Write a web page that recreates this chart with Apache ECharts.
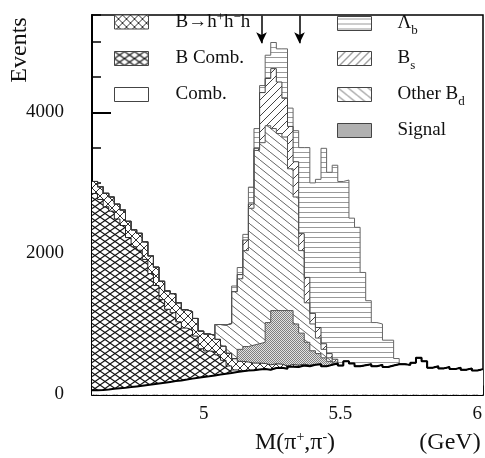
<!DOCTYPE html>
<html>
<head>
<meta charset="utf-8">
<script src="https://cdn.jsdelivr.net/npm/echarts/dist/echarts.min.js"></script>
<style>html,body{margin:0;padding:0;background:#fff;}#c{width:485px;height:458px;}</style>
</head>
<body>
<div id="c"></div>
<script>
// Bin left edges (GeV), last entry is the right edge of the final bin
var binEdges = [4.60,4.62,4.64,4.66,4.68,4.70,4.72,4.74,4.76,4.78,
  4.80,4.82,4.84,4.86,4.88,4.90,4.92,4.94,4.96,4.98,
  5.00,5.02,5.04,5.06,5.08,5.10,5.12,5.14,5.16,5.18,
  5.20,5.22,5.24,5.26,5.28,5.30,5.32,5.34,5.36,5.38,
  5.40,5.42,5.44,5.46,5.48,5.50,5.52,5.54,5.56,5.58,
  5.60,5.62,5.64,5.66,5.68,5.70,5.72,5.74,5.76,5.78,
  5.80,5.82,5.84,5.86,5.88,5.90,5.92,5.94,5.96,5.98,6.00];

// Events per bin for each stacked component (bottom to top)
var comb = [60,65,72,80,88,96,105,115,125,135,
  145,155,165,178,190,200,212,225,238,248,
  258,270,282,295,305,318,330,340,345,355,
  360,350,375,380,365,395,390,410,400,420,
  430,400,420,440,410,470,440,400,415,430,
  400,420,390,410,430,430,420,450,520,470,
  380,400,370,390,360,380,350,370,340,360];
var bComb = [2790,2700,2590,2520,2400,2300,2120,1980,1920,1780,
  1570,1390,1180,1030,970,830,730,690,590,400,
  360,340,280,190,100,30,0,0,0,0,
  0,0,0,0,0,0,0,0,0,0,
  0,0,0,0,0,0,0,0,0,0,
  0,0,0,0,0,0,0,0,0,0,
  0,0,0,0,0,0,0,0,0,0];
var bHHH = [170,180,190,200,210,220,230,240,240,250,
  250,260,260,260,270,270,260,260,250,250,
  240,230,220,200,180,160,140,120,100,90,
  80,70,60,50,40,30,25,20,15,10,
  0,0,0,0,0,0,0,0,0,0,
  0,0,0,0,0,0,0,0,0,0,
  0,0,0,0,0,0,0,0,0,0];
var signal = [0,0,0,0,0,0,0,0,0,0,
  0,0,0,0,0,0,0,0,0,0,
  0,0,0,0,0,0,170,220,255,275,
  300,600,755,760,785,765,585,440,325,190,
  150,120,50,0,0,0,0,0,0,0,
  0,0,0,0,0,0,0,0,0,0,
  0,0,0,0,0,0,0,0,0,0];
var otherBd = [0,0,0,0,0,0,0,0,0,0,
  0,0,0,0,0,0,0,0,0,0,
  0,0,210,300,420,950,1000,1360,1940,2740,
  2830,2790,2580,2510,2460,2010,1800,1170,560,380,
  220,120,50,20,0,0,0,0,0,0,
  0,0,0,0,0,0,0,0,0,0,
  0,0,0,0,0,0,0,0,0,0];
var bS = [0,0,0,0,0,0,0,0,0,0,
  0,0,0,0,0,0,0,0,0,0,
  0,0,0,0,0,0,60,150,60,30,
  710,670,850,730,550,600,500,240,360,150,
  150,80,60,40,0,0,0,0,0,0,
  0,0,0,0,0,0,0,0,0,0,
  0,0,0,0,0,0,0,0,0,0];
var lambdaB = [0,0,0,0,0,0,0,0,0,0,
  0,0,0,0,0,0,0,0,0,0,
  0,0,0,0,0,80,100,80,240,280,
  100,330,370,470,700,260,440,1220,1840,1850,
  2100,2770,2570,2750,2610,2570,2060,1970,1315,900,
  620,580,380,360,80,0,0,0,0,0,
  0,0,0,0,0,0,0,0,0,0];

var arrowsX = [5.207, 5.343];
var xTickLabels = [5, 5.5, 6];
var yTickLabels = [0, 2000, 4000];

var SERIF = "'Liberation Serif','DejaVu Serif',serif";

function tile(w, h, draw) {
  var c = document.createElement('canvas');
  c.width = w; c.height = h;
  var ctx = c.getContext('2d');
  ctx.fillStyle = '#fff'; ctx.fillRect(0, 0, w, h);
  draw(ctx, w, h);
  return { image: c, repeat: 'repeat' };
}
function diag(ctx, w, h, up) {
  for (var k = -1; k <= 1; k++) {
    ctx.beginPath();
    if (up) { ctx.moveTo(k * w, h); ctx.lineTo(k * w + w, 0); }
    else { ctx.moveTo(k * w, 0); ctx.lineTo(k * w + w, h); }
    ctx.stroke();
  }
}
var patHHH = tile(8, 8, function (ctx, w, h) {
  ctx.strokeStyle = '#333'; ctx.lineWidth = 1;
  diag(ctx, w, h, true); diag(ctx, w, h, false);
});
var patBComb = tile(10, 7, function (ctx, w, h) {
  ctx.strokeStyle = '#111'; ctx.lineWidth = 1.1;
  diag(ctx, w, h, true); diag(ctx, w, h, false);
});
var patComb = tile(4, 4, function () {});
var patLb = tile(4, 5, function (ctx) {
  ctx.fillStyle = '#999'; ctx.fillRect(0, 2, 4, 1);
});
var patBs = tile(8, 8, function (ctx, w, h) {
  ctx.strokeStyle = '#444'; ctx.lineWidth = 1; diag(ctx, w, h, true);
});
var patBd = tile(10, 8, function (ctx, w, h) {
  ctx.strokeStyle = '#666'; ctx.lineWidth = 1; diag(ctx, w, h, false);
});
var patSig = tile(2, 2, function (ctx) {
  ctx.fillStyle = '#808080'; ctx.fillRect(0, 0, 1, 1); ctx.fillRect(1, 1, 1, 1);
  ctx.fillStyle = '#e2e2e2'; ctx.fillRect(1, 0, 1, 1); ctx.fillRect(0, 1, 1, 1);
});

var layers = [
  { name: 'Comb.', vals: comb, pat: patComb, line: '#000', lw: 2 },
  { name: 'B Comb.', vals: bComb, pat: patBComb, line: '#222', lw: 1 },
  { name: 'B→h+h-h', vals: bHHH, pat: patHHH, line: '#333', lw: 1 },
  { name: 'Signal', vals: signal, pat: patSig, line: '#555', lw: 1 },
  { name: 'Other Bd', vals: otherBd, pat: patBd, line: '#555', lw: 1 },
  { name: 'Bs', vals: bS, pat: patBs, line: '#444', lw: 1 },
  { name: 'Λb', vals: lambdaB, pat: patLb, line: '#666', lw: 1 }
];
var patByName = {};
layers.forEach(function (l) { patByName[l.name] = l.pat; });

// running (stacked) totals, bottom layer first
var running = binEdges.slice(0, comb.length).map(function () { return 0; });
layers.forEach(function (l) {
  running = running.map(function (v, i) { return v + l.vals[i]; });
  l.cum = running.slice();
});

function pts(vals) {
  var out = [];
  for (var i = 0; i < vals.length; i++) out.push([binEdges[i], vals[i]]);
  out.push([binEdges[vals.length], vals[vals.length - 1]]);
  return out;
}

// draw top-most stack first; each lower layer paints over it (opaque patterns)
var series = layers.slice().reverse().map(function (l) {
  return {
    type: 'line', name: l.name, step: 'end',
    data: pts(l.cum), symbol: 'none', showSymbol: false, silent: true,
    xAxisIndex: 0, yAxisIndex: 0,
    lineStyle: { color: l.line, width: l.lw },
    areaStyle: { color: l.pat, opacity: 1, origin: 'start' },
    itemStyle: { color: l.line }
  };
});
series.push({
  type: 'line', name: 'arrows', data: [], xAxisIndex: 0, yAxisIndex: 0, silent: true,
  markLine: {
    silent: true, symbol: ['none', 'arrow'], symbolSize: [8, 11],
    label: { show: false },
    lineStyle: { color: '#000', width: 1.5, type: 'solid' },
    data: arrowsX.map(function (x) { return [{ coord: [x, 5370] }, { coord: [x, 4980] }]; })
  }
});

var legendLabels = {
  'B→h+h-h': '{sp|}{t|B→h}{sup|+}{t|h}{sup|−}{t|h}',
  'B Comb.': '{sp|}{t|B Comb.}',
  'Comb.': '{sp|}{t|Comb.}',
  'Λb': '{sp2|}{t|Λ}{sub|b}',
  'Bs': '{sp2|}{t|B}{sub|s}',
  'Other Bd': '{sp2|}{t|Other B}{sub|d}',
  'Signal': '{sp2|}{t|Signal}'
};
var rich = {
  sp: { width: 22, lineHeight: 30 },
  sp2: { width: 21, lineHeight: 30 },
  t: { fontFamily: SERIF, fontSize: 19, lineHeight: 30, color: '#111' },
  sup: { fontFamily: SERIF, fontSize: 13, lineHeight: 14, verticalAlign: 'top', padding: [4, 0, 0, 0], color: '#111' },
  sub: { fontFamily: SERIF, fontSize: 13, lineHeight: 14, verticalAlign: 'bottom', padding: [0, 0, 1, 0], color: '#111' }
};
// one legend block per entry: [name, left, top]
var legendPlaces = [
  ['B→h+h-h', 114, 7], ['B Comb.', 114, 49], ['Comb.', 114, 85],
  ['Λb', 337, 14], ['Bs', 337, 49], ['Other Bd', 337, 85], ['Signal', 337, 121]
];
var legends = legendPlaces.map(function (p) {
  return {
    left: p[1], top: p[2], orient: 'vertical', itemWidth: 34, itemHeight: 14, padding: 0,
    selectedMode: false, formatter: function (n) { return legendLabels[n]; },
    textStyle: { rich: rich },
    data: [{ name: p[0], icon: 'rect', itemStyle: { color: patByName[p[0]], borderColor: '#444', borderWidth: 1 } }]
  };
});

var L = 92, R = 483, T = 15, B = 394.5;
var xmin = 4.6, xmax = 6.0, ymax = 5380;
var pxPerX = (R - L) / (xmax - xmin);
var pxPerY = (B - T) / ymax;

var option = {
  animation: false,
  backgroundColor: '#fff',
  grid: [
    { left: L, top: T, width: R - L, height: B - T, show: true, borderColor: '#000', borderWidth: 1.5, backgroundColor: 'transparent' },
    { left: L + (5 - xmin) * pxPerX, top: T, width: (6 - 5) * pxPerX, height: B - T },
    { left: L, top: B - 4000 * pxPerY, width: R - L, height: 4000 * pxPerY }
  ],
  xAxis: [
    { gridIndex: 0, type: 'value', min: xmin, max: xmax, interval: 0.1,
      axisLine: { show: true, lineStyle: { color: '#000', width: 2 } },
      axisTick: { show: true, inside: true, length: 9, lineStyle: { color: '#000', width: 1.5 } },
      axisLabel: { show: false }, splitLine: { show: false } },
    { gridIndex: 1, type: 'value', min: 5, max: 6, interval: 0.5,
      axisLine: { show: false },
      axisTick: { show: true, inside: true, length: 15, lineStyle: { color: '#000', width: 2 } },
      axisLabel: { show: true, margin: 10, fontFamily: SERIF, fontSize: 19, color: '#111',
        formatter: function (v) { return xTickLabels.indexOf(v) >= 0 ? String(v) : ''; } },
      splitLine: { show: false } },
    { gridIndex: 2, type: 'value', min: xmin, max: xmax, show: false }
  ],
  yAxis: [
    { gridIndex: 0, type: 'value', min: 0, max: ymax, interval: 500,
      axisLine: { show: true, lineStyle: { color: '#000', width: 2 } },
      axisTick: { show: true, inside: true, length: 9, lineStyle: { color: '#000', width: 1.5 } },
      axisLabel: { show: false }, splitLine: { show: false } },
    { gridIndex: 1, type: 'value', min: 0, max: ymax, show: false },
    { gridIndex: 2, type: 'value', min: 0, max: 4000, interval: 2000,
      axisLine: { show: false },
      axisTick: { show: true, inside: true, length: 19, lineStyle: { color: '#000', width: 2 } },
      axisLabel: { show: true, margin: 28, fontFamily: SERIF, fontSize: 19, color: '#111',
        formatter: function (v) { return yTickLabels.indexOf(v) >= 0 ? String(v) : ''; } },
      splitLine: { show: false } }
  ],
  legend: legends,
  graphic: [
    { type: 'text', x: 20, y: 50, rotation: Math.PI / 2, silent: true,
      style: { text: 'Events', fontFamily: SERIF, fontSize: 24, fill: '#111', align: 'center', verticalAlign: 'middle' } },
    { type: 'text', x: 295, y: 443, silent: true,
      style: { text: '{t|M(π}{s|+}{t|,π}{s|-}{t|)}', align: 'center', verticalAlign: 'middle',
        rich: {
          t: { fontFamily: SERIF, fontSize: 24, lineHeight: 30, fill: '#111' },
          s: { fontFamily: SERIF, fontSize: 14, lineHeight: 16, verticalAlign: 'top', padding: [2, 0, 0, 0], fill: '#111' }
        } } },
    { type: 'text', x: 450, y: 443, silent: true,
      style: { text: '(GeV)', fontFamily: SERIF, fontSize: 24, fill: '#111', align: 'center', verticalAlign: 'middle' } }
  ],
  series: series
};

var chart = echarts.init(document.getElementById('c'), null, { renderer: 'canvas' });
chart.setOption(option);
</script>
</body>
</html>
